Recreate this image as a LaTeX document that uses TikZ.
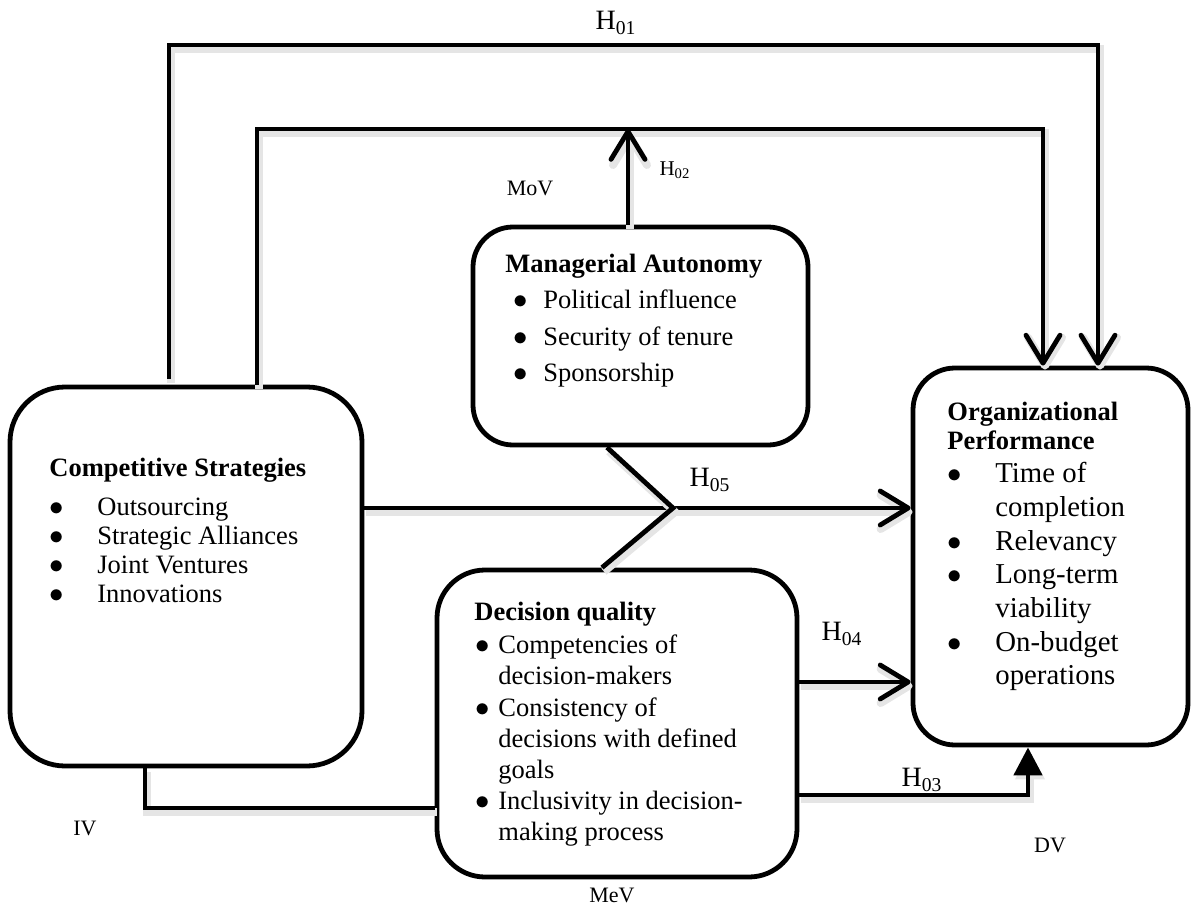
\documentclass[tikz,border=0pt]{standalone}
\usepackage{fontspec}
\setmainfont{Liberation Serif}
\usepackage{tikz}
\usetikzlibrary{arrows.meta, calc}
\newcommand{\bitem}[2][0pt]{\makebox[#2][l]{\hspace*{#1}$\bullet$}}
\tikzset{
  box/.style={rectangle, draw=black, rounded corners=#1, line width=2.4pt},
  txt/.style={inner sep=0pt, anchor=base west},
  lbl/.style={inner sep=0pt, font=\fontsize{14}{16}\selectfont},
  tag/.style={inner sep=0pt, font=\fontsize{11}{13}\selectfont},
  line/.style={line width=2.4pt,
    preaction={draw=black!10, line width=4pt, transform canvas={shift={(1pt,-2pt)}}}},
  arrow/.style={line, -{Straight Barb[length=14pt,width=17pt,round]}},
  tri/.style={line, -{Triangle[length=14pt,width=14pt]}}
}
\begin{document}
\begin{tikzpicture}[x=0.5pt, y=-0.5pt]
  \useasboundingbox (0,0) rectangle (1191,905);

  % The four variable boxes
  \node[box=27.5pt, minimum width=176pt, minimum height=189.5pt] (cs) at (186,576.5) {};
  \node[box=20pt, minimum width=167.5pt, minimum height=109pt] (ma) at (640.5,336) {};
  \node[box=24pt, minimum width=180pt, minimum height=153.5pt] (dq) at (617,723.5) {};
  \node[box=21pt, minimum width=137.5pt, minimum height=188.5pt] (op) at (1050.5,556.5) {};

  % Box contents
  \node[txt, font=\fontsize{13.25}{14.5}\selectfont] (cstxt) at (49,476) {\parbox[t]{170pt}{%
    \textbf{Competitive Strategies}\\[5pt]
    \bitem{24pt}Outsourcing\\
    \bitem{24pt}Strategic Alliances\\
    \bitem{24pt}Joint Ventures\\
    \bitem{24pt}Innovations}};
  \node[txt, font=\fontsize{13.25}{18.25}\selectfont] (matxt) at (505,272) {\parbox[t]{150pt}{%
    \textbf{Managerial Autonomy}\\
    \bitem[4pt]{19pt}Political influence\\
    \bitem[4pt]{19pt}Security of tenure\\
    \bitem[4pt]{19pt}Sponsorship}};
  \node[txt, font=\fontsize{13.25}{15.6}\selectfont] (dqtxt) at (474,620) {\parbox[t]{160pt}{%
    \textbf{Decision quality}\\[1.2pt]
    \bitem[0.5pt]{12pt}Competencies of\\
    \hspace*{12pt}decision-makers\\
    \bitem[0.5pt]{12pt}Consistency of\\
    \hspace*{12pt}decisions with defined\\
    \hspace*{12pt}goals\\
    \bitem[0.5pt]{12pt}Inclusivity in decision-\\
    \hspace*{12pt}making process}};
  \node[txt, font=\fontsize{14.4}{16.85}\selectfont] (optxt) at (947,420) {\parbox[t]{120pt}{%
    {\fontsize{13.25}{14.5}\selectfont\bfseries Organizational\\[-2.35pt]Performance}\\
    \bitem{24pt}Time of\\
    \hspace*{24pt}completion\\
    \bitem{24pt}Relevancy\\
    \bitem{24pt}Long-term\\
    \hspace*{24pt}viability\\
    \bitem{24pt}On-budget\\
    \hspace*{24pt}operations}};

  % Outer path H01 and inner path H02
  \coordinate (h1l) at (169,45);
  \coordinate (h1r) at (1098,45);
  \coordinate (h2l) at (257,129);
  \coordinate (h2r) at (1043,129);
  \coordinate (h2m) at (628,129);
  \draw[arrow] ([yshift=3pt]h1l |- cs.north) -- (h1l) -- (h1r) -- (h1r |- op.north);
  \draw[arrow] (h2l |- cs.north) -- (h2l) -- (h2r) -- (h2r |- op.north);
  \draw[arrow] (h2m |- ma.north) -- (h2m);

  % H05 with the chevron from the two boxes
  \coordinate (h5) at (673,508);
  \coordinate (chtop) at (607,0);
  \coordinate (chbot) at (602,0);
  \draw[arrow] (cs.east |- h5) -- (h5 -| op.west);
  \draw[line] (chtop |- ma.south) -- (h5) -- (chbot |- dq.north);

  % H04, H03 and the IV link
  \coordinate (h4) at (0,682);
  \coordinate (h3) at (1028,795);
  \coordinate (iv) at (145,808);
  \draw[arrow] (dq.east |- h4) -- (op.west |- h4);
  \draw[tri] (dq.east |- h3) -- (h3) -- (h3 |- op.south);
  \draw[line] (iv |- cs.south) -- (iv) -- (iv -| dq.west);

  % Labels
  \node[lbl] (lh1) at (616,23) {H\textsubscript{01}};
  \node[tag, font=\fontsize{10.5}{12}\selectfont] (lh2) at (675,170) {H\textsubscript{02}};
  \node[tag] (lmov) at (530,188) {MoV};
  \node[lbl] (lh5) at (710,480) {H\textsubscript{05}};
  \node[lbl] (lh4) at (842,634) {H\textsubscript{04}};
  \node[lbl] (lh3) at (922,780) {H\textsubscript{03}};
  \node[tag] (liv) at (85,828) {IV};
  \node[tag] (ldv) at (1050,845) {DV};
  \node[tag] (lmev) at (612,895) {MeV};
\end{tikzpicture}
\end{document}
